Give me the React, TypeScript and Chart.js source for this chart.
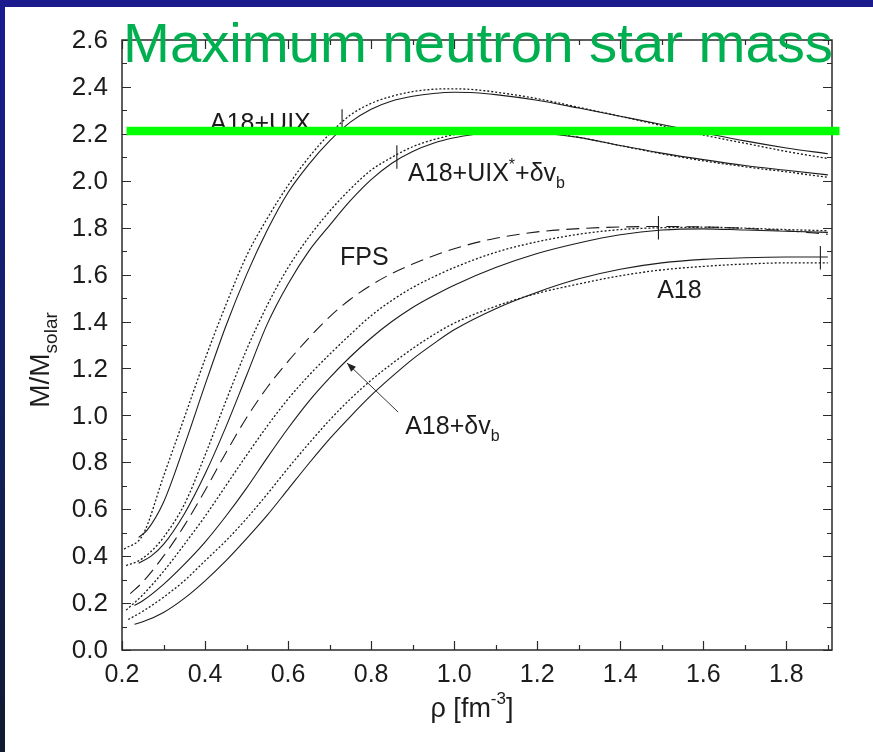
import { useEffect, useRef } from "react";
import { Chart, registerables } from "chart.js";

Chart.register(...registerables);

const FONT = "'Liberation Sans', Arial, Helvetica, sans-serif";

// ---------- axes ----------
const X_MIN = 0.2;
const X_MAX = 1.91;
const Y_MIN = 0;
const Y_MAX = 2.6;
const xMajorTicks = [0.2, 0.4, 0.6, 0.8, 1.0, 1.2, 1.4, 1.6, 1.8];
const xMinorTicks = [0.3, 0.5, 0.7, 0.9, 1.1, 1.3, 1.5, 1.7, 1.9];
const yMajorTicks = [0, 0.2, 0.4, 0.6, 0.8, 1.0, 1.2, 1.4, 1.6, 1.8, 2.0, 2.2, 2.4, 2.6];
const yMinorTicks = [0.1, 0.3, 0.5, 0.7, 0.9, 1.1, 1.3, 1.5, 1.7, 1.9, 2.1, 2.3, 2.5];

// ---------- A18+UIX ----------
const rhoUixSolid = [0.24, 0.26, 0.30, 0.35, 0.40, 0.45, 0.50, 0.55, 0.60, 0.65, 0.70, 0.75, 0.80, 0.85, 0.90, 0.95, 1.00, 1.05, 1.10, 1.20, 1.30, 1.40, 1.50, 1.60, 1.70, 1.80, 1.90];
const massUixSolid = [0.48, 0.51, 0.63, 0.87, 1.13, 1.38, 1.60, 1.79, 1.95, 2.07, 2.17, 2.25, 2.305, 2.34, 2.36, 2.372, 2.377, 2.375, 2.367, 2.343, 2.31, 2.275, 2.24, 2.205, 2.17, 2.14, 2.115];
const rhoUixDotted = [0.205, 0.25, 0.30, 0.35, 0.40, 0.45, 0.50, 0.55, 0.60, 0.65, 0.70, 0.75, 0.80, 0.85, 0.90, 0.95, 1.00, 1.05, 1.10, 1.20, 1.30, 1.40, 1.50, 1.60, 1.70, 1.80, 1.90];
const massUixDotted = [0.43, 0.49, 0.74, 0.99, 1.24, 1.47, 1.68, 1.84, 1.98, 2.10, 2.20, 2.28, 2.33, 2.36, 2.38, 2.39, 2.392, 2.388, 2.378, 2.35, 2.313, 2.275, 2.235, 2.195, 2.16, 2.125, 2.095];

// ---------- A18+UIX*+dv_b ----------
const rhoUixStarSolid = [0.24, 0.27, 0.30, 0.35, 0.40, 0.45, 0.50, 0.55, 0.60, 0.65, 0.70, 0.75, 0.80, 0.85, 0.90, 0.95, 1.00, 1.05, 1.10, 1.15, 1.20, 1.30, 1.40, 1.50, 1.60, 1.70, 1.80, 1.90];
const massUixStarSolid = [0.37, 0.40, 0.45, 0.58, 0.75, 0.95, 1.17, 1.39, 1.56, 1.70, 1.81, 1.915, 2.005, 2.075, 2.125, 2.16, 2.183, 2.198, 2.208, 2.21, 2.205, 2.185, 2.15, 2.118, 2.09, 2.065, 2.045, 2.025];
const rhoUixStarDotted = [0.21, 0.24, 0.27, 0.30, 0.35, 0.40, 0.45, 0.50, 0.55, 0.60, 0.65, 0.70, 0.75, 0.80, 0.85, 0.90, 0.95, 1.00, 1.05, 1.10, 1.15, 1.20, 1.30, 1.40, 1.50, 1.60, 1.70, 1.80, 1.90];
const massUixStarDotted = [0.36, 0.38, 0.42, 0.48, 0.62, 0.83, 1.06, 1.28, 1.47, 1.63, 1.76, 1.87, 1.965, 2.045, 2.10, 2.145, 2.175, 2.197, 2.21, 2.218, 2.218, 2.21, 2.185, 2.15, 2.115, 2.085, 2.06, 2.038, 2.015];

// ---------- FPS ----------
const rhoFps = [0.22, 0.25, 0.30, 0.35, 0.40, 0.45, 0.50, 0.55, 0.60, 0.65, 0.70, 0.75, 0.80, 0.85, 0.90, 1.00, 1.10, 1.20, 1.30, 1.40, 1.50, 1.60, 1.70, 1.80, 1.90];
const massFps = [0.24, 0.29, 0.40, 0.53, 0.68, 0.84, 0.99, 1.12, 1.23, 1.33, 1.42, 1.495, 1.555, 1.605, 1.645, 1.71, 1.755, 1.782, 1.796, 1.803, 1.805, 1.803, 1.797, 1.787, 1.772];

// ---------- A18+dv_b ----------
const rhoDvbSolid = [0.23, 0.25, 0.30, 0.35, 0.40, 0.45, 0.50, 0.55, 0.60, 0.65, 0.70, 0.75, 0.80, 0.85, 0.90, 0.95, 1.00, 1.10, 1.20, 1.30, 1.40, 1.50, 1.60, 1.70, 1.80, 1.90];
const massDvbSolid = [0.19, 0.21, 0.28, 0.365, 0.46, 0.57, 0.69, 0.82, 0.945, 1.06, 1.16, 1.25, 1.33, 1.40, 1.46, 1.51, 1.555, 1.63, 1.69, 1.735, 1.77, 1.79, 1.795, 1.79, 1.785, 1.78];
const rhoDvbDotted = [0.21, 0.25, 0.30, 0.35, 0.40, 0.45, 0.50, 0.55, 0.60, 0.65, 0.70, 0.75, 0.80, 0.85, 0.90, 0.95, 1.00, 1.10, 1.20, 1.30, 1.40, 1.50, 1.60, 1.70, 1.80, 1.90];
const massDvbDotted = [0.17, 0.235, 0.335, 0.45, 0.57, 0.70, 0.83, 0.955, 1.07, 1.17, 1.26, 1.345, 1.425, 1.49, 1.545, 1.59, 1.63, 1.695, 1.74, 1.772, 1.792, 1.80, 1.802, 1.798, 1.792, 1.787];

// ---------- A18 ----------
const rhoA18Solid = [0.23, 0.25, 0.30, 0.35, 0.40, 0.45, 0.50, 0.55, 0.60, 0.65, 0.70, 0.75, 0.80, 0.85, 0.90, 0.95, 1.00, 1.10, 1.20, 1.30, 1.40, 1.50, 1.60, 1.70, 1.80, 1.90];
const massA18Solid = [0.11, 0.12, 0.16, 0.22, 0.295, 0.38, 0.475, 0.575, 0.685, 0.795, 0.90, 0.995, 1.085, 1.165, 1.24, 1.305, 1.365, 1.455, 1.525, 1.582, 1.623, 1.65, 1.665, 1.672, 1.675, 1.675];
const rhoA18Dotted = [0.215, 0.25, 0.30, 0.35, 0.40, 0.45, 0.50, 0.55, 0.60, 0.65, 0.70, 0.75, 0.80, 0.85, 0.90, 0.95, 1.00, 1.10, 1.20, 1.30, 1.40, 1.50, 1.60, 1.70, 1.80, 1.90];
const massA18Dotted = [0.13, 0.165, 0.225, 0.295, 0.38, 0.465, 0.56, 0.665, 0.775, 0.88, 0.98, 1.07, 1.15, 1.22, 1.285, 1.343, 1.393, 1.465, 1.52, 1.56, 1.595, 1.62, 1.635, 1.645, 1.65, 1.65];

// ---------- maximum-mass markers on the curves ----------
const markRho = [0.73, 0.862, 1.492, 1.882];
const markMass = [2.255, 2.101, 1.8, 1.672];
const markHalf = 0.05;

// ---------- observed maximum mass line ----------
const maxMassValue = 2.212;
const maxMassRho = [0.211, 1.928];

// ---------- annotations ----------
const labelRho = [0.412, 0.889, 0.725, 1.489, 0.882];
const labelMass = [2.212, 1.999, 1.641, 1.5, 0.921];
const arrowFrom = { x: 0.865, y: 1.014 };
const arrowTo = { x: 0.742, y: 1.223 };

const TITLE = "Maximum neutron star mass";

type Part = { t: string; size: number; dy: number };
const MAIN = 25;
const SUB = 16;
const labelParts: Part[][] = [
  [{ t: "A18+UIX", size: MAIN, dy: 0 }],
  [
    { t: "A18+UIX", size: MAIN, dy: 0 },
    { t: "*", size: SUB, dy: -11 },
    { t: "+δv", size: MAIN, dy: 0 },
    { t: "b", size: SUB, dy: 7 },
  ],
  [{ t: "FPS", size: MAIN, dy: 0 }],
  [{ t: "A18", size: MAIN, dy: 0 }],
  [
    { t: "A18+δv", size: MAIN, dy: 0 },
    { t: "b", size: SUB, dy: 7 },
  ],
];

const pts = (xs: number[], ys: number[]) => xs.map((x, i) => ({ x, y: ys[i] }));

const INK = "#1c1c1c";

function partsWidth(ctx: CanvasRenderingContext2D, parts: Part[]) {
  let w = 0;
  for (const p of parts) {
    ctx.font = `${p.size}px ${FONT}`;
    w += ctx.measureText(p.t).width;
  }
  return w;
}

function drawParts(ctx: CanvasRenderingContext2D, parts: Part[], x: number, y: number) {
  let cx = x;
  for (const p of parts) {
    ctx.font = `${p.size}px ${FONT}`;
    ctx.fillText(p.t, cx, y + p.dy);
    cx += ctx.measureText(p.t).width;
  }
}

const framePlugin = {
  id: "frame",
  beforeDraw(chart: any) {
    const ctx: CanvasRenderingContext2D = chart.ctx;
    const W = chart.width;
    const H = chart.height;
    ctx.save();
    ctx.fillStyle = "#ffffff";
    ctx.fillRect(0, 0, W, H);
    const g = ctx.createLinearGradient(0, 0, 0, H);
    g.addColorStop(0, "#1b1b92");
    g.addColorStop(0.5, "#142063");
    g.addColorStop(1, "#0f1b30");
    ctx.fillStyle = g;
    ctx.fillRect(0, 0, 5, H);
    ctx.fillStyle = "#1b1b8e";
    ctx.fillRect(0, 0, W, 7);
    ctx.restore();
  },
  beforeDatasetsDraw(chart: any) {
    const ctx: CanvasRenderingContext2D = chart.ctx;
    const xs = chart.scales.x;
    const ys = chart.scales.y;
    const { left, right, top, bottom } = chart.chartArea;
    ctx.save();
    // annotations
    ctx.fillStyle = INK;
    ctx.textBaseline = "alphabetic";
    ctx.textAlign = "left";
    labelParts.forEach((parts, i) => {
      drawParts(ctx, parts, xs.getPixelForValue(labelRho[i]), ys.getPixelForValue(labelMass[i]));
    });
    // arrow
    const ax0 = xs.getPixelForValue(arrowFrom.x);
    const ay0 = ys.getPixelForValue(arrowFrom.y);
    const ax1 = xs.getPixelForValue(arrowTo.x);
    const ay1 = ys.getPixelForValue(arrowTo.y);
    ctx.strokeStyle = "#333";
    ctx.lineWidth = 1;
    ctx.beginPath();
    ctx.moveTo(ax0, ay0);
    ctx.lineTo(ax1, ay1);
    ctx.stroke();
    const ang = Math.atan2(ay1 - ay0, ax1 - ax0);
    const hl = 9;
    const hw = 3.5;
    ctx.beginPath();
    ctx.moveTo(ax1, ay1);
    ctx.lineTo(ax1 - hl * Math.cos(ang) + hw * Math.sin(ang), ay1 - hl * Math.sin(ang) - hw * Math.cos(ang));
    ctx.lineTo(ax1 - hl * Math.cos(ang) - hw * Math.sin(ang), ay1 - hl * Math.sin(ang) + hw * Math.cos(ang));
    ctx.closePath();
    ctx.fillStyle = "#222";
    ctx.fill();

    // frame box
    ctx.strokeStyle = "#2a2a2a";
    ctx.lineWidth = 1.5;
    ctx.strokeRect(left, top, right - left, bottom - top);
    // ticks
    ctx.lineWidth = 1.2;
    ctx.beginPath();
    const tick = (vals: number[], len: number) => {
      vals.forEach((v) => {
        const px = Math.round(xs.getPixelForValue(v)) + 0.5;
        ctx.moveTo(px, bottom);
        ctx.lineTo(px, bottom - len);
        ctx.moveTo(px, top);
        ctx.lineTo(px, top + len);
      });
    };
    const ytick = (vals: number[], len: number) => {
      vals.forEach((v) => {
        const py = Math.round(ys.getPixelForValue(v)) + 0.5;
        ctx.moveTo(left, py);
        ctx.lineTo(left + len, py);
        ctx.moveTo(right, py);
        ctx.lineTo(right - len, py);
      });
    };
    tick(xMajorTicks, 9);
    tick(xMinorTicks, 5);
    ytick(yMajorTicks, 9);
    ytick(yMinorTicks, 5);
    ctx.stroke();

    // tick labels
    ctx.fillStyle = INK;
    ctx.font = `${MAIN}px ${FONT}`;
    ctx.textAlign = "center";
    ctx.textBaseline = "alphabetic";
    xMajorTicks.forEach((v) => {
      ctx.fillText(v.toFixed(1), xs.getPixelForValue(v), bottom + 32);
    });
    ctx.font = `26px ${FONT}`;
    ctx.textAlign = "right";
    ctx.textBaseline = "middle";
    yMajorTicks.forEach((v) => {
      ctx.fillText(v.toFixed(1), left - 14, ys.getPixelForValue(v) + 1);
    });

    // x axis title
    ctx.textAlign = "left";
    ctx.textBaseline = "alphabetic";
    const xParts: Part[] = [
      { t: "ρ [fm", size: 27, dy: 0 },
      { t: "-3", size: 17, dy: -13 },
      { t: "]", size: 27, dy: 0 },
    ];
    const xw = partsWidth(ctx, xParts);
    drawParts(ctx, xParts, (left + right) / 2 - xw / 2 - 5, bottom + 67);

    // y axis title
    const yParts: Part[] = [
      { t: "M/M", size: 28, dy: 0 },
      { t: "solar", size: 19, dy: 8 },
    ];
    const yw = partsWidth(ctx, yParts);
    ctx.translate(49, 360);
    ctx.rotate(-Math.PI / 2);
    drawParts(ctx, yParts, -yw / 2, 0);
    ctx.restore();
  },
  afterDraw(chart: any) {
    const ctx: CanvasRenderingContext2D = chart.ctx;
    ctx.save();
    ctx.font = `55px ${FONT}`;
    const w = ctx.measureText(TITLE).width;
    const target = 710;
    ctx.translate(123, 62);
    ctx.scale(target / w, 1);
    ctx.fillStyle = "#00b050";
    ctx.textAlign = "left";
    ctx.textBaseline = "alphabetic";
    ctx.fillText(TITLE, 0, 0);
    ctx.restore();
  },
};

const solid = (data: any[]) => ({
  data,
  borderColor: INK,
  borderWidth: 1.1,
  pointRadius: 0,
  fill: false,
  cubicInterpolationMode: "monotone" as const,
});
const dotted = (data: any[]) => ({ ...solid(data), borderDash: [2, 2], borderWidth: 1.3 });
const dashed = (data: any[]) => ({ ...solid(data), borderDash: [13, 7] });

export default function App() {
  const ref = useRef<HTMLCanvasElement>(null);
  useEffect(() => {
    const canvas = ref.current;
    if (!canvas) return;
    const markers = markRho.map((r, i) => ({
      data: [
        { x: r, y: markMass[i] - markHalf },
        { x: r, y: markMass[i] + markHalf },
      ],
      borderColor: INK,
      borderWidth: 1.1,
      pointRadius: 0,
      fill: false,
    }));
    const datasets: any[] = [
      {
        data: maxMassRho.map((x) => ({ x, y: maxMassValue })),
        borderColor: "#00ff00",
        borderWidth: 8.5,
        borderCapStyle: "butt",
        pointRadius: 0,
        fill: false,
        clip: false,
      },
      solid(pts(rhoUixSolid, massUixSolid)),
      dotted(pts(rhoUixDotted, massUixDotted)),
      solid(pts(rhoUixStarSolid, massUixStarSolid)),
      dotted(pts(rhoUixStarDotted, massUixStarDotted)),
      dashed(pts(rhoFps, massFps)),
      solid(pts(rhoDvbSolid, massDvbSolid)),
      dotted(pts(rhoDvbDotted, massDvbDotted)),
      solid(pts(rhoA18Solid, massA18Solid)),
      dotted(pts(rhoA18Dotted, massA18Dotted)),
      ...markers,
    ];
    const chart = new Chart(canvas, {
      type: "line",
      data: { datasets },
      options: {
        animation: false,
        responsive: false,
        devicePixelRatio: 1,
        events: [],
        layout: { padding: { top: 40, right: 41, left: 0, bottom: 0 } },
        plugins: {
          legend: { display: false },
          tooltip: { enabled: false },
          title: { display: false },
        },
        scales: {
          x: {
            type: "linear",
            min: X_MIN,
            max: X_MAX,
            ticks: { display: false },
            grid: { display: false },
            border: { display: false },
            afterFit: (s: any) => {
              s.height = 102;
            },
          },
          y: {
            type: "linear",
            min: Y_MIN,
            max: Y_MAX,
            ticks: { display: false },
            grid: { display: false },
            border: { display: false },
            afterFit: (s: any) => {
              s.width = 122;
            },
          },
        },
      } as any,
      plugins: [framePlugin],
    });
    return () => chart.destroy();
  }, []);
  return (
    <div style={{ position: "absolute", left: 0, top: 0, width: 873, height: 752 }}>
      <canvas ref={ref} width={873} height={752} style={{ display: "block" }} />
    </div>
  );
}
